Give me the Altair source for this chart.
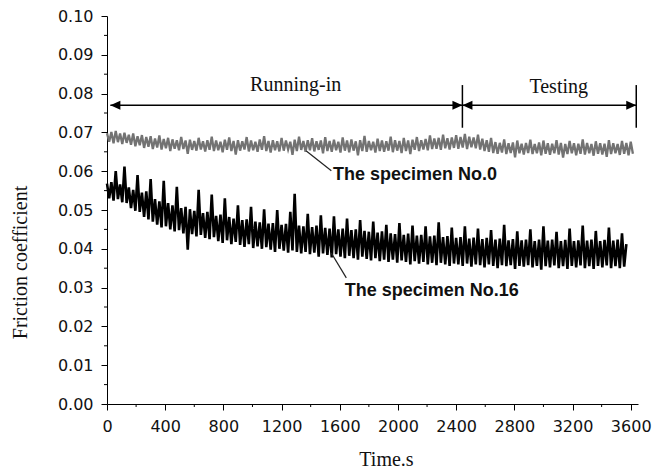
import altair as alt
import pandas as pd

# ---------------- data ----------------
STEP = 15  # sampling interval of the traces, s

no0_values = [
    0.0698, 0.0676, 0.0701, 0.0672, 0.0704, 0.0675, 0.0697, 0.0670, 0.0699, 0.0673,
    0.0694, 0.0668, 0.0697, 0.0664, 0.0690, 0.0667, 0.0693, 0.0660, 0.0688, 0.0663,
    0.0690, 0.0657, 0.0684, 0.0661, 0.0692, 0.0656, 0.0683, 0.0659, 0.0686, 0.0652,
    0.0682, 0.0658, 0.0680, 0.0654, 0.0688, 0.0657, 0.0679, 0.0645, 0.0681, 0.0655,
    0.0678, 0.0653, 0.0686, 0.0656, 0.0677, 0.0651, 0.0680, 0.0655, 0.0689, 0.0652,
    0.0679, 0.0654, 0.0676, 0.0649, 0.0681, 0.0655, 0.0687, 0.0652, 0.0678, 0.0643,
    0.0680, 0.0653, 0.0677, 0.0656, 0.0688, 0.0651, 0.0679, 0.0654, 0.0676, 0.0650,
    0.0682, 0.0655, 0.0690, 0.0652, 0.0678, 0.0648, 0.0680, 0.0654, 0.0677, 0.0651,
    0.0686, 0.0653, 0.0679, 0.0656, 0.0676, 0.0642, 0.0681, 0.0652, 0.0689, 0.0655,
    0.0678, 0.0650, 0.0680, 0.0654, 0.0685, 0.0651, 0.0677, 0.0655, 0.0679, 0.0646,
    0.0688, 0.0652, 0.0678, 0.0650, 0.0681, 0.0654, 0.0676, 0.0648, 0.0687, 0.0653,
    0.0679, 0.0649, 0.0682, 0.0653, 0.0677, 0.0641, 0.0680, 0.0652, 0.0691, 0.0650,
    0.0678, 0.0654, 0.0676, 0.0648, 0.0684, 0.0652, 0.0679, 0.0650, 0.0677, 0.0653,
    0.0689, 0.0649, 0.0680, 0.0653, 0.0678, 0.0647, 0.0686, 0.0652, 0.0679, 0.0644,
    0.0681, 0.0655, 0.0688, 0.0652, 0.0680, 0.0656, 0.0683, 0.0654, 0.0692, 0.0657,
    0.0684, 0.0658, 0.0686, 0.0655, 0.0694, 0.0659, 0.0685, 0.0656, 0.0687, 0.0660,
    0.0693, 0.0658, 0.0688, 0.0661, 0.0696, 0.0657, 0.0689, 0.0662, 0.0687, 0.0659,
    0.0694, 0.0656, 0.0684, 0.0652, 0.0680, 0.0650, 0.0686, 0.0647, 0.0675, 0.0645,
    0.0673, 0.0648, 0.0682, 0.0644, 0.0672, 0.0647, 0.0674, 0.0636, 0.0679, 0.0646,
    0.0671, 0.0643, 0.0673, 0.0647, 0.0681, 0.0644, 0.0670, 0.0646, 0.0674, 0.0641,
    0.0679, 0.0645, 0.0672, 0.0642, 0.0671, 0.0646, 0.0680, 0.0643, 0.0673, 0.0635,
    0.0670, 0.0644, 0.0678, 0.0646, 0.0672, 0.0641, 0.0671, 0.0645, 0.0682, 0.0643,
    0.0673, 0.0646, 0.0670, 0.0640, 0.0677, 0.0645, 0.0672, 0.0643, 0.0671, 0.0637,
    0.0680, 0.0644, 0.0672, 0.0646, 0.0670, 0.0642, 0.0678, 0.0645, 0.0673, 0.0641,
    0.0676, 0.0645,
]

no16_values = [
    0.0568, 0.0530, 0.0572, 0.0524, 0.0600, 0.0528, 0.0566, 0.0520, 0.0612, 0.0518,
    0.0558, 0.0505, 0.0552, 0.0498, 0.0590, 0.0495, 0.0545, 0.0482, 0.0548, 0.0476,
    0.0580, 0.0470, 0.0528, 0.0462, 0.0522, 0.0455, 0.0575, 0.0458, 0.0518, 0.0450,
    0.0512, 0.0445, 0.0560, 0.0448, 0.0505, 0.0440, 0.0508, 0.0398, 0.0502, 0.0438,
    0.0498, 0.0432, 0.0552, 0.0436, 0.0492, 0.0428, 0.0495, 0.0425, 0.0540, 0.0430,
    0.0485, 0.0420, 0.0488, 0.0415, 0.0530, 0.0422, 0.0482, 0.0412, 0.0478, 0.0418,
    0.0512, 0.0410, 0.0474, 0.0405, 0.0476, 0.0412, 0.0508, 0.0402, 0.0470, 0.0406,
    0.0468, 0.0400, 0.0502, 0.0404, 0.0465, 0.0398, 0.0466, 0.0392, 0.0500, 0.0400,
    0.0462, 0.0395, 0.0464, 0.0390, 0.0495, 0.0396, 0.0542, 0.0392, 0.0460, 0.0388,
    0.0458, 0.0392, 0.0490, 0.0386, 0.0456, 0.0390, 0.0460, 0.0380, 0.0486, 0.0388,
    0.0454, 0.0384, 0.0452, 0.0378, 0.0484, 0.0386, 0.0450, 0.0380, 0.0452, 0.0376,
    0.0478, 0.0382, 0.0448, 0.0376, 0.0450, 0.0372, 0.0474, 0.0380, 0.0446, 0.0374,
    0.0444, 0.0370, 0.0470, 0.0376, 0.0442, 0.0368, 0.0445, 0.0372, 0.0462, 0.0366,
    0.0440, 0.0372, 0.0438, 0.0364, 0.0466, 0.0370, 0.0436, 0.0366, 0.0439, 0.0360,
    0.0460, 0.0368, 0.0434, 0.0362, 0.0436, 0.0366, 0.0458, 0.0360, 0.0432, 0.0364,
    0.0434, 0.0358, 0.0468, 0.0364, 0.0430, 0.0360, 0.0433, 0.0356, 0.0455, 0.0362,
    0.0428, 0.0360, 0.0430, 0.0356, 0.0458, 0.0362, 0.0426, 0.0354, 0.0429, 0.0360,
    0.0452, 0.0358, 0.0425, 0.0352, 0.0428, 0.0360, 0.0448, 0.0356, 0.0424, 0.0350,
    0.0426, 0.0358, 0.0462, 0.0355, 0.0422, 0.0358, 0.0425, 0.0348, 0.0445, 0.0356,
    0.0422, 0.0354, 0.0424, 0.0358, 0.0450, 0.0352, 0.0420, 0.0356, 0.0424, 0.0346,
    0.0458, 0.0355, 0.0421, 0.0352, 0.0424, 0.0357, 0.0444, 0.0350, 0.0420, 0.0355,
    0.0423, 0.0348, 0.0452, 0.0356, 0.0420, 0.0352, 0.0422, 0.0357, 0.0460, 0.0350,
    0.0421, 0.0355, 0.0424, 0.0348, 0.0446, 0.0356, 0.0420, 0.0352, 0.0423, 0.0357,
    0.0455, 0.0350, 0.0421, 0.0355, 0.0424, 0.0350, 0.0440, 0.0354, 0.0412,
]

x_ticks = [0, 400, 800, 1200, 1600, 2000, 2400, 2800, 3200, 3600]
x_minor = [200, 600, 1000, 1400, 1800, 2200, 2600, 3000, 3400]
y_ticks = [0.00, 0.01, 0.02, 0.03, 0.04, 0.05, 0.06, 0.07, 0.08, 0.09, 0.10]
y_minor = [0.005, 0.015, 0.025, 0.035, 0.045, 0.055, 0.065, 0.075, 0.085, 0.095]

# phase annotation (Running-in / Testing)
arrow_start, phase_split, phase_end = 23, 2443, 3638
arrow_level = 0.0770
bar_low, bar_high = 0.0712, 0.0822
phase_labels = ["Running-in", "Testing"]
phase_label_t = [1297, 3105]
phase_label_v = [0.0822, 0.0818]

# specimen labels and leader lines
spec_labels = ["The specimen No.0", "The specimen No.16"]
spec_label_t = [1553, 1634]
spec_label_v = [0.0589, 0.0291]
leader_t = [1370, 1542]
leader_v = [0.0652, 0.0389]
leader_t2 = [1542, 1645]
leader_v2 = [0.0601, 0.0325]

# ---------------- tables ----------------
df0 = pd.DataFrame({"t": [i * STEP for i in range(len(no0_values))], "v": no0_values})
df16 = pd.DataFrame({"t": [i * STEP for i in range(len(no16_values))], "v": no16_values})
df_xminor = pd.DataFrame({"t": x_minor})
df_yminor = pd.DataFrame({"v": y_minor})
df_arrow = pd.DataFrame({"t": [arrow_start], "t2": [phase_end], "v": [arrow_level]})
df_bars = pd.DataFrame({"t": [phase_split, phase_end], "v": [bar_low, bar_low],
                        "v2": [bar_high, bar_high]})
df_head_left = pd.DataFrame({"t": [arrow_start, phase_split], "v": [arrow_level] * 2})
df_head_right = pd.DataFrame({"t": [phase_split, phase_end], "v": [arrow_level] * 2})
df_phase = pd.DataFrame({"t": phase_label_t, "v": phase_label_v, "label": phase_labels})
df_spec = pd.DataFrame({"t": spec_label_t, "v": spec_label_v, "label": spec_labels})
df_leader = pd.DataFrame({"t": leader_t, "v": leader_v, "t2": leader_t2, "v2": leader_v2})

W, H = 531, 388
PAD_L, PAD_T, PAD_R, PAD_B = 99, 8, 20, 64
xs = alt.Scale(domain=[0, 3650], nice=False, zero=False)
ys = alt.Scale(domain=[0, 0.10], nice=False)

xax = alt.Axis(values=x_ticks, format="d", title="Time.s", grid=False, tickSize=6,
               labelPadding=8, labelFont="DejaVu Sans", labelFontSize=16,
               labelColor="#111", labelFlush=False, labelOverlap=False,
               titleFont="Liberation Serif", titleFontSize=20, titleFontWeight="normal",
               titleColor="#111", titleX=279, titleY=55, titleBaseline="middle")
yax = alt.Axis(values=y_ticks, format=".2f", title="Friction coefficient", grid=False,
               tickSize=6, labelPadding=8, labelFont="DejaVu Sans", labelFontSize=16,
               labelColor="#111", labelFlush=False, labelOverlap=False,
               titleFont="Liberation Serif", titleFontSize=20, titleFontWeight="normal",
               titleColor="#111", titleX=-87, titleY=246, titleBaseline="middle")

X = alt.X("t:Q", scale=xs, axis=xax)
Y = alt.Y("v:Q", scale=ys, axis=yax)

line0 = alt.Chart(df0).mark_line(color="#737373", strokeWidth=2.3,
                                 strokeJoin="miter").encode(x=X, y=Y)
line16 = alt.Chart(df16).mark_line(color="#000000", strokeWidth=2.6,
                                   strokeJoin="miter").encode(x=X, y=Y)

xminor = alt.Chart(df_xminor).mark_rule(color="black", strokeWidth=1).encode(
    x=X, y=alt.value(H), y2=alt.value(H + 3))
yminor = alt.Chart(df_yminor).mark_rule(color="black", strokeWidth=1).encode(
    y=Y, x=alt.value(0), x2=alt.value(-3))

arrow = alt.Chart(df_arrow).mark_rule(color="black", strokeWidth=1.5).encode(
    x=X, x2="t2:Q", y=Y)
bars = alt.Chart(df_bars).mark_rule(color="black", strokeWidth=1.5).encode(
    x=X, y=Y, y2="v2:Q")
head_left = alt.Chart(df_head_left).mark_point(
    shape="M0,0 L1,-0.45 L1,0.45 Z", filled=True, color="black", opacity=1, size=400
).encode(x=X, y=Y)
head_right = alt.Chart(df_head_right).mark_point(
    shape="M0,0 L-1,-0.45 L-1,0.45 Z", filled=True, color="black", opacity=1, size=400
).encode(x=X, y=Y)

phase_text = alt.Chart(df_phase).mark_text(
    font="Liberation Serif", fontSize=20, color="#111", align="center", baseline="middle"
).encode(x=X, y=Y, text="label:N")

leaders = alt.Chart(df_leader).mark_rule(color="#222", strokeWidth=1.2).encode(
    x=X, y=Y, x2="t2:Q", y2="v2:Q")
spec_text = alt.Chart(df_spec).mark_text(
    font="Liberation Sans", fontSize=18, fontWeight="bold", color="#111",
    align="left", baseline="middle"
).encode(x=X, y=Y, text="label:N")

chart = alt.layer(
    line0, line16, xminor, yminor, arrow, bars, head_left, head_right,
    phase_text, leaders, spec_text
).properties(
    width=W, height=H,
    autosize=alt.AutoSizeParams(type="none"),
    padding={"left": PAD_L, "top": PAD_T, "right": PAD_R, "bottom": PAD_B},
).configure_view(stroke=None).configure_axis(
    domainColor="black", domainWidth=1, tickColor="black", tickWidth=1
)

chart.save("out.html", embed_options={"renderer": "svg", "actions": False})
